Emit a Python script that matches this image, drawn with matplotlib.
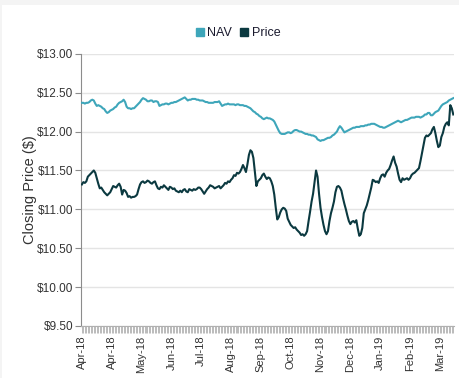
import matplotlib.pyplot as plt
import matplotlib.patches as mpatches
from matplotlib.lines import Line2D
import pandas as pd

plt.rcParams['font.family'] = ['Liberation Sans', 'DejaVu Sans']

# Trading days, Apr-2018 to Mar-2019
dates = pd.bdate_range('2018-04-02', periods=250)

price = [
    11.32, 11.35, 11.34, 11.36, 11.42, 11.44, 11.46, 11.48, 11.50, 11.47,
    11.40, 11.33, 11.27, 11.28, 11.25, 11.22, 11.20, 11.18, 11.20, 11.22,
    11.26, 11.30, 11.29, 11.28, 11.31, 11.33, 11.29, 11.19, 11.25, 11.24,
    11.21, 11.16, 11.17, 11.15, 11.16, 11.16, 11.17, 11.19, 11.26, 11.32,
    11.35, 11.36, 11.34, 11.35, 11.37, 11.36, 11.34, 11.33, 11.35, 11.36,
    11.31, 11.27, 11.26, 11.29, 11.28, 11.31, 11.29, 11.27, 11.25, 11.29,
    11.28, 11.26, 11.27, 11.24, 11.23, 11.22, 11.24, 11.22, 11.25, 11.26,
    11.23, 11.22, 11.26, 11.25, 11.24, 11.26, 11.25, 11.26, 11.28, 11.28,
    11.26, 11.23, 11.20, 11.23, 11.26, 11.28, 11.31, 11.30, 11.29, 11.27,
    11.28, 11.29, 11.30, 11.27, 11.29, 11.31, 11.34, 11.33, 11.36, 11.35,
    11.38, 11.40, 11.44, 11.43, 11.47, 11.46, 11.48, 11.52, 11.57, 11.53,
    11.48, 11.58, 11.70, 11.76, 11.74, 11.66, 11.48, 11.30, 11.36, 11.38,
    11.40, 11.44, 11.46, 11.42, 11.39, 11.41, 11.40, 11.36, 11.30, 11.19,
    11.02, 10.87, 10.90, 10.96, 11.00, 11.02, 11.01, 10.98, 10.88, 10.84,
    10.80, 10.78, 10.76, 10.77, 10.74, 10.72, 10.70, 10.67, 10.68, 10.66,
    10.68, 10.72, 10.85, 10.97, 11.10, 11.20, 11.35, 11.50, 11.42, 11.20,
    11.02, 10.90, 10.80, 10.72, 10.68, 10.72, 10.85, 10.95, 11.02, 11.10,
    11.22, 11.29, 11.30, 11.28, 11.24, 11.15, 11.07, 11.00, 10.92, 10.85,
    10.81, 10.84, 10.85, 10.83, 10.86, 10.75, 10.66, 10.68, 10.76, 10.95,
    11.00, 11.05, 11.12, 11.20, 11.28, 11.38, 11.37, 11.35, 11.36, 11.34,
    11.40, 11.44, 11.45, 11.42, 11.47, 11.50, 11.52, 11.57, 11.63, 11.68,
    11.60, 11.55, 11.46, 11.38, 11.35, 11.40, 11.38, 11.39, 11.40, 11.38,
    11.40, 11.44, 11.46, 11.47, 11.49, 11.51, 11.53, 11.62, 11.72, 11.82,
    11.92, 11.95, 11.94, 11.96, 11.98, 12.03, 12.06, 11.98, 11.88, 11.80,
    11.82, 11.93, 11.98, 12.06, 12.10, 12.12, 12.08, 12.34, 12.30, 12.22,
]

nav = [
    12.37, 12.37, 12.36, 12.37, 12.37, 12.38, 12.40, 12.41, 12.40, 12.36,
    12.33, 12.34, 12.33, 12.32, 12.30, 12.29, 12.26, 12.24, 12.25, 12.27,
    12.28, 12.29, 12.31, 12.32, 12.35, 12.37, 12.38, 12.39, 12.41, 12.38,
    12.32, 12.30, 12.30, 12.29, 12.30, 12.30, 12.32, 12.34, 12.36, 12.38,
    12.41, 12.43, 12.42, 12.41, 12.39, 12.39, 12.40, 12.40, 12.38, 12.39,
    12.39, 12.38, 12.33, 12.34, 12.35, 12.35, 12.36, 12.36, 12.35, 12.36,
    12.37, 12.37, 12.38, 12.38, 12.39, 12.40, 12.41, 12.42, 12.43, 12.44,
    12.42, 12.40, 12.41, 12.41, 12.42, 12.42, 12.42, 12.41, 12.41, 12.40,
    12.40, 12.40, 12.39, 12.38, 12.38, 12.37, 12.37, 12.37, 12.37, 12.38,
    12.38, 12.38, 12.39, 12.36, 12.33, 12.34, 12.35, 12.35, 12.36, 12.35,
    12.35, 12.35, 12.35, 12.34, 12.35, 12.35, 12.34, 12.34, 12.34, 12.33,
    12.33, 12.32, 12.31, 12.30, 12.28, 12.26, 12.25, 12.23, 12.22, 12.20,
    12.19, 12.17, 12.16, 12.17, 12.18, 12.17, 12.17, 12.16, 12.15, 12.13,
    12.09, 12.05, 12.01, 11.98, 11.97, 11.97, 11.97, 11.98, 11.99, 11.99,
    11.98, 11.99, 12.01, 12.02, 12.02, 12.01, 12.00, 12.00, 11.99, 11.98,
    11.97, 11.97, 11.96, 11.96, 11.95, 11.95, 11.94, 11.93, 11.90, 11.89,
    11.88, 11.89, 11.89, 11.90, 11.91, 11.92, 11.92, 11.93, 11.95, 11.96,
    11.98, 12.00, 12.04, 12.07, 12.05, 12.02, 11.99, 12.00, 12.01, 12.02,
    12.03, 12.04, 12.05, 12.05, 12.06, 12.06, 12.06, 12.07, 12.07, 12.07,
    12.08, 12.08, 12.09, 12.09, 12.10, 12.10, 12.10, 12.09, 12.08, 12.07,
    12.06, 12.06, 12.05, 12.05, 12.06, 12.07, 12.08, 12.09, 12.10, 12.11,
    12.12, 12.13, 12.14, 12.13, 12.12, 12.13, 12.14, 12.15, 12.15, 12.16,
    12.17, 12.18, 12.18, 12.18, 12.19, 12.19, 12.19, 12.18, 12.19, 12.20,
    12.22, 12.22, 12.24, 12.24, 12.21, 12.21, 12.23, 12.25, 12.26, 12.27,
    12.30, 12.33, 12.35, 12.36, 12.37, 12.38, 12.40, 12.41, 12.42, 12.43,
]

y_ticks = [9.5, 10.0, 10.5, 11.0, 11.5, 12.0, 12.5, 13.0]

nav_color = '#3ea6ba'
price_color = '#0b3940'

fig = plt.figure(figsize=(4.6, 3.78), dpi=100, facecolor='#f4f4f4')
# white card behind the chart
fig.patches.append(mpatches.Rectangle((2 / 460, 0), 1, 1 - 5 / 378, transform=fig.transFigure,
                                      facecolor='white', edgecolor='none', zorder=-10))

ax = fig.add_axes([0.177, 0.1376, 0.81, 0.72])
ax.set_facecolor('white')

x = list(range(len(dates)))
ax.plot(x, nav, color=nav_color, lw=1.5, zorder=3)
ax.plot(x, price, color=price_color, lw=1.5, zorder=4)

ax.set_ylim(9.5, 13.0)
ax.set_yticks(y_ticks)
ax.set_yticklabels([f'${v:.2f}' for v in y_ticks])
ax.yaxis.grid(True, color='#e4e4e4', lw=1)
ax.set_axisbelow(True)

ax.set_xlim(-0.3, len(dates) - 0.5)
ax.set_xticks(x)
ax.set_xticklabels([d.strftime('%b-%y') if i % 20 == 0 else '' for i, d in enumerate(dates)],
                   rotation=90)

for s in ['top', 'right']:
    ax.spines[s].set_visible(False)
ax.spines['left'].set_color('#8c8c8c')
ax.spines['bottom'].set_color('#b0b0b0')
ax.tick_params(axis='y', length=4, width=0.8, color='#8c8c8c', labelsize=8.5,
               labelcolor='#333333', pad=2)
ax.tick_params(axis='x', length=5, width=0.5, color='#a0a0a0', labelsize=8,
               labelcolor='#333333', pad=2)

ax.set_ylabel('Closing Price ($)', fontsize=10.5, color='#333333', labelpad=0)

handles = [Line2D([], [], marker='s', ls='', color=nav_color, markersize=6),
           Line2D([], [], marker='s', ls='', color=price_color, markersize=6)]
fig.legend(handles, ['NAV', 'Price'], loc='center', bbox_to_anchor=(0.515, 0.912), ncol=2,
           frameon=False, fontsize=9, handletextpad=0.1, columnspacing=0.5,
           handlelength=1.0, labelcolor='#1a1a2e')

fig.savefig('out.png', dpi=100, facecolor=fig.get_facecolor())
